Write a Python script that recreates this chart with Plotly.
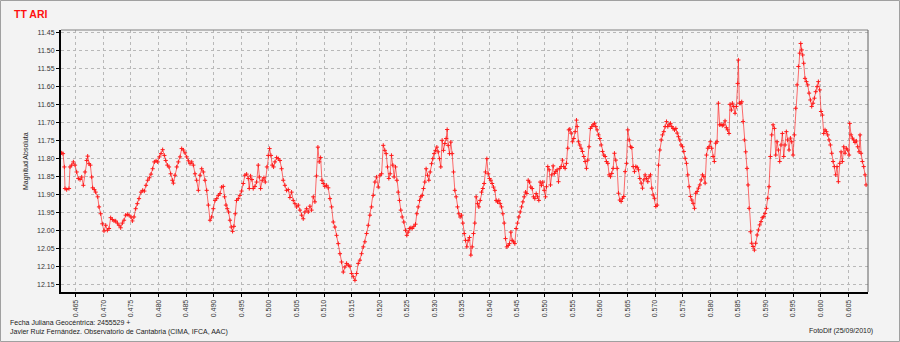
import plotly.graph_objects as go

# ---- data (JD - 2455529, absolute magnitude) ----
jd_a = [0.46246, 0.46270, 0.46295, 0.46307, 0.46337, 0.46379, 0.46397, 0.46428, 0.46458, 0.46488,
        0.46518, 0.46548, 0.46579, 0.46609, 0.46639, 0.46669, 0.46699, 0.46717, 0.46742, 0.46766,
        0.46790, 0.46808, 0.46838, 0.46862, 0.46899, 0.46923, 0.46953, 0.46983, 0.47013, 0.47044,
        0.47074, 0.47104, 0.47134, 0.47164, 0.47195, 0.47225, 0.47255, 0.47285, 0.47315, 0.47346,
        0.47376, 0.47406, 0.47436, 0.47466, 0.47503, 0.47527, 0.47557, 0.47587, 0.47617, 0.47648,
        0.47684, 0.47714, 0.47744, 0.47774, 0.47805, 0.47835, 0.47865, 0.47895, 0.47925, 0.47956,
        0.47986, 0.48016, 0.48046, 0.48076, 0.48107, 0.48131, 0.48161, 0.48191, 0.48221, 0.48252,
        0.48270, 0.48300, 0.48330, 0.48360, 0.48391, 0.48421, 0.48451, 0.48481, 0.48511, 0.48542,
        0.48572, 0.48602, 0.48632, 0.48662, 0.48692, 0.48723, 0.48753, 0.48783, 0.48813, 0.48843,
        0.48874, 0.48904, 0.48934, 0.48964, 0.48994, 0.49025, 0.49055, 0.49085, 0.49115, 0.49145]
mag_a = [11.785, 11.787, 11.824, 11.884, 11.887, 11.884, 11.824, 11.819, 11.810, 11.819,
         11.838, 11.856, 11.859, 11.852, 11.875, 11.838, 11.806, 11.794, 11.815, 11.819,
         11.852, 11.882, 11.887, 11.894, 11.907, 11.935, 11.954, 11.982, 12.002, 11.986,
         12.000, 11.995, 11.965, 11.970, 11.974, 11.974, 11.980, 11.986, 11.993, 11.980,
         11.972, 11.958, 11.956, 11.958, 11.963, 11.974, 11.963, 11.940, 11.926, 11.912,
         11.894, 11.889, 11.891, 11.875, 11.861, 11.854, 11.844, 11.829, 11.810, 11.807,
         11.810, 11.796, 11.787, 11.776, 11.792, 11.806, 11.819, 11.824, 11.843, 11.861,
         11.869, 11.847, 11.824, 11.810, 11.796, 11.773, 11.777, 11.785, 11.796, 11.807,
         11.815, 11.810, 11.819, 11.843, 11.861, 11.889, 11.847, 11.829, 11.838, 11.861,
         11.889, 11.930, 11.972, 11.963, 11.940, 11.917, 11.912, 11.903, 11.898, 11.880]

jd_b = [0.49174, 0.49198, 0.49222, 0.49246, 0.49270, 0.49295, 0.49319, 0.49343, 0.49367, 0.49391,
        0.49415, 0.49446, 0.49476, 0.49506, 0.49536, 0.49566, 0.49597, 0.49627, 0.49645, 0.49669,
        0.49693, 0.49717, 0.49748, 0.49778, 0.49808, 0.49826, 0.49850, 0.49881, 0.49911, 0.49935,
        0.49965, 0.49989, 0.50013, 0.50038, 0.50062, 0.50086, 0.50110, 0.50140, 0.50170, 0.50201,
        0.50231, 0.50261, 0.50291, 0.50321, 0.50352, 0.50382, 0.50412, 0.50442, 0.50472, 0.50503,
        0.50533, 0.50563, 0.50593, 0.50623, 0.50654, 0.50684, 0.50714, 0.50744, 0.50774, 0.50805,
        0.50835, 0.50865, 0.50889, 0.50913, 0.50938, 0.50962, 0.50986, 0.51016, 0.51046, 0.51076,
        0.51107, 0.51137, 0.51167, 0.51197, 0.51227, 0.51258, 0.51288, 0.51318, 0.51348, 0.51378,
        0.51409, 0.51439, 0.51469, 0.51499, 0.51529, 0.51560, 0.51590, 0.51620, 0.51650, 0.51680,
        0.51711, 0.51741, 0.51771, 0.51801, 0.51831, 0.51862, 0.51892, 0.51922, 0.51952, 0.51982,
        0.52013, 0.52043, 0.52073]
mag_b = [11.878, 11.907, 11.930, 11.940, 11.949, 11.972, 11.991, 12.003, 11.989, 11.954,
         11.917, 11.912, 11.903, 11.891, 11.870, 11.847, 11.844, 11.856, 11.884, 11.849,
         11.859, 11.884, 11.878, 11.866, 11.819, 11.852, 11.884, 11.861, 11.854, 11.866,
         11.824, 11.792, 11.773, 11.792, 11.819, 11.824, 11.810, 11.798, 11.801, 11.806,
         11.829, 11.861, 11.875, 11.889, 11.887, 11.909, 11.894, 11.917, 11.926, 11.935,
         11.930, 11.944, 11.958, 11.968, 11.949, 11.940, 11.949, 11.933, 11.944, 11.907,
         11.921, 11.849, 11.769, 11.810, 11.798, 11.861, 11.870, 11.878, 11.875, 11.882,
         11.912, 11.935, 11.977, 11.991, 12.014, 12.037, 12.065, 12.088, 12.116, 12.102,
         12.092, 12.097, 12.100, 12.120, 12.129, 12.139, 12.120, 12.092, 12.083, 12.065,
         12.046, 12.032, 12.009, 11.986, 11.958, 11.935, 11.903, 11.866, 11.852, 11.880,
         11.847, 11.843, 11.764]

jd_c = [0.52101, 0.52126, 0.52150, 0.52174, 0.52198, 0.52222, 0.52246, 0.52270, 0.52295, 0.52319,
        0.52343, 0.52367, 0.52391, 0.52415, 0.52446, 0.52476, 0.52500, 0.52524, 0.52548, 0.52572,
        0.52597, 0.52627, 0.52657, 0.52681, 0.52705, 0.52730, 0.52754, 0.52778, 0.52802, 0.52826,
        0.52850, 0.52874, 0.52899, 0.52923, 0.52947, 0.52971, 0.52995, 0.53019, 0.53044, 0.53068,
        0.53092, 0.53116, 0.53140, 0.53164, 0.53189, 0.53213, 0.53231, 0.53249, 0.53273, 0.53297,
        0.53321, 0.53346, 0.53370, 0.53394, 0.53418, 0.53442, 0.53466, 0.53491, 0.53515, 0.53539,
        0.53563, 0.53587, 0.53611, 0.53636, 0.53660, 0.53684, 0.53708, 0.53732, 0.53756, 0.53781,
        0.53805, 0.53829, 0.53853, 0.53877, 0.53901, 0.53925, 0.53950, 0.53974, 0.53998, 0.54022,
        0.54046, 0.54070, 0.54095, 0.54119, 0.54143, 0.54167, 0.54191, 0.54215, 0.54240, 0.54264,
        0.54288, 0.54312, 0.54336, 0.54360, 0.54385, 0.54409, 0.54433, 0.54457, 0.54481, 0.54505,
        0.54529, 0.54554, 0.54578, 0.54602, 0.54626, 0.54650, 0.54674, 0.54699, 0.54723, 0.54747,
        0.54771, 0.54795, 0.54819, 0.54844, 0.54868, 0.54892, 0.54916, 0.54940, 0.54964, 0.54989,
        0.55013]
mag_c = [11.778, 11.787, 11.824, 11.856, 11.843, 11.792, 11.819, 11.852, 11.824, 11.861,
         11.894, 11.917, 11.944, 11.963, 11.977, 12.000, 12.014, 12.005, 11.995, 11.993,
         11.995, 11.989, 11.983, 11.954, 11.935, 11.917, 11.907, 11.903, 11.884, 11.866,
         11.829, 11.847, 11.861, 11.838, 11.815, 11.801, 11.787, 11.778, 11.769, 11.782,
         11.801, 11.824, 11.750, 11.778, 11.759, 11.745, 11.720, 11.764, 11.787, 11.755,
         11.787, 11.838, 11.889, 11.907, 11.935, 11.954, 11.963, 11.958, 11.980, 12.009,
         12.028, 12.046, 12.028, 12.020, 12.069, 12.046, 12.009, 11.980, 11.907, 11.926,
         11.935, 11.917, 11.894, 11.884, 11.870, 11.838, 11.801, 11.843, 11.856, 11.861,
         11.870, 11.880, 11.889, 11.917, 11.921, 11.917, 11.926, 11.935, 11.954, 11.980,
         12.023, 12.046, 12.042, 12.037, 12.005, 12.028, 12.032, 12.037, 11.995, 11.980,
         11.963, 11.949, 11.935, 11.921, 11.907, 11.894, 11.898, 11.861, 11.866, 11.880,
         11.884, 11.907, 11.912, 11.898, 11.907, 11.917, 11.866, 11.875, 11.866, 11.889,
         11.907]

jd_d = [0.55030, 0.55054, 0.55079, 0.55103, 0.55127, 0.55151, 0.55175, 0.55199, 0.55223, 0.55248,
        0.55272, 0.55296, 0.55320, 0.55344, 0.55368, 0.55393, 0.55417, 0.55435, 0.55453, 0.55477,
        0.55501, 0.55525, 0.55550, 0.55574, 0.55586, 0.55610, 0.55634, 0.55658, 0.55683, 0.55707,
        0.55731, 0.55755, 0.55779, 0.55803, 0.55827, 0.55852, 0.55876, 0.55900, 0.55924, 0.55948,
        0.55972, 0.55997, 0.56021, 0.56045, 0.56069, 0.56093, 0.56117, 0.56142, 0.56166, 0.56190,
        0.56214, 0.56238, 0.56262, 0.56287, 0.56311, 0.56335, 0.56359, 0.56383, 0.56407, 0.56431,
        0.56456, 0.56480, 0.56504, 0.56528, 0.56552, 0.56576, 0.56601, 0.56625, 0.56649, 0.56673,
        0.56697, 0.56721, 0.56746, 0.56770, 0.56794, 0.56818, 0.56842, 0.56866, 0.56891, 0.56915,
        0.56939, 0.56963, 0.56987, 0.57011, 0.57035, 0.57060, 0.57084, 0.57108, 0.57132, 0.57156,
        0.57180, 0.57205, 0.57229, 0.57253, 0.57277, 0.57301, 0.57325, 0.57350, 0.57374, 0.57398,
        0.57422, 0.57446, 0.57470, 0.57495, 0.57519, 0.57543, 0.57567, 0.57591, 0.57615, 0.57639,
        0.57664, 0.57688, 0.57712, 0.57736, 0.57760, 0.57784, 0.57809, 0.57833, 0.57857, 0.57881,
        0.57905, 0.57929, 0.57954]
mag_d = [11.879, 11.823, 11.832, 11.874, 11.846, 11.821, 11.842, 11.837, 11.832, 11.865,
         11.828, 11.823, 11.805, 11.823, 11.828, 11.814, 11.772, 11.721, 11.719, 11.730,
         11.754, 11.745, 11.726, 11.694, 11.712, 11.754, 11.763, 11.772, 11.781, 11.795,
         11.809, 11.828, 11.805, 11.768, 11.717, 11.712, 11.707, 11.703, 11.712, 11.721,
         11.735, 11.745, 11.763, 11.781, 11.791, 11.795, 11.809, 11.814, 11.846, 11.851,
         11.842, 11.828, 11.786, 11.805, 11.828, 11.897, 11.916, 11.920, 11.911, 11.906,
         11.837, 11.814, 11.721, 11.749, 11.768, 11.770, 11.823, 11.837, 11.823, 11.825,
         11.832, 11.856, 11.869, 11.883, 11.860, 11.846, 11.856, 11.865, 11.851, 11.846,
         11.883, 11.902, 11.911, 11.934, 11.930, 11.819, 11.777, 11.749, 11.735, 11.726,
         11.712, 11.698, 11.712, 11.707, 11.703, 11.712, 11.717, 11.721, 11.717, 11.730,
         11.740, 11.749, 11.763, 11.768, 11.781, 11.800, 11.814, 11.846, 11.879, 11.906,
         11.916, 11.925, 11.939, 11.897, 11.892, 11.883, 11.874, 11.860, 11.846, 11.851,
         11.869, 11.791, 11.772]

jd_e = [0.57976, 0.58000, 0.58024, 0.58048, 0.58072, 0.58097, 0.58121, 0.58145, 0.58169, 0.58193,
        0.58217, 0.58242, 0.58266, 0.58290, 0.58314, 0.58338, 0.58356, 0.58381, 0.58399, 0.58423,
        0.58447, 0.58471, 0.58495, 0.58507, 0.58525, 0.58550, 0.58568, 0.58592, 0.58616, 0.58640,
        0.58664, 0.58683, 0.58701, 0.58725, 0.58749, 0.58773, 0.58797, 0.58821, 0.58846, 0.58870,
        0.58894, 0.58918, 0.58942, 0.58966, 0.58991, 0.59015, 0.59039, 0.59063, 0.59087, 0.59111,
        0.59136, 0.59160, 0.59184, 0.59208, 0.59232, 0.59256, 0.59280, 0.59305, 0.59329, 0.59353,
        0.59377, 0.59401, 0.59425, 0.59450, 0.59474, 0.59498, 0.59522, 0.59546, 0.59570, 0.59595,
        0.59619, 0.59637, 0.59655, 0.59673, 0.59691, 0.59715, 0.59740, 0.59764, 0.59788, 0.59812,
        0.59836, 0.59860, 0.59885, 0.59909, 0.59933, 0.59957, 0.59981, 0.60005, 0.60029, 0.60054,
        0.60078, 0.60102, 0.60126, 0.60150, 0.60174, 0.60199, 0.60223, 0.60247, 0.60271, 0.60295,
        0.60319, 0.60344, 0.60368, 0.60392, 0.60416, 0.60440, 0.60464, 0.60489, 0.60513, 0.60525,
        0.60549, 0.60573, 0.60597, 0.60621, 0.60645, 0.60670, 0.60694, 0.60712, 0.60730, 0.60754,
        0.60778, 0.60803, 0.60821]
mag_e = [11.768, 11.754, 11.772, 11.795, 11.809, 11.758, 11.754, 11.647, 11.707, 11.706,
         11.709, 11.707, 11.696, 11.715, 11.721, 11.731, 11.650, 11.666, 11.647, 11.656,
         11.675, 11.656, 11.592, 11.527, 11.647, 11.647, 11.643, 11.698, 11.749, 11.782,
         11.828, 11.874, 11.939, 12.004, 12.036, 12.045, 12.055, 12.036, 12.013, 11.999,
         11.985, 11.976, 11.965, 11.962, 11.953, 11.939, 11.911, 11.879, 11.795, 11.735,
         11.707, 11.717, 11.791, 11.754, 11.777, 11.809, 11.763, 11.731, 11.795, 11.763,
         11.726, 11.749, 11.777, 11.744, 11.754, 11.791, 11.735, 11.661, 11.596, 11.545,
         11.508, 11.481, 11.499, 11.513, 11.536, 11.578, 11.587, 11.596, 11.619, 11.638,
         11.656, 11.647, 11.633, 11.615, 11.601, 11.587, 11.610, 11.670, 11.680, 11.731,
         11.721, 11.726, 11.735, 11.749, 11.763, 11.786, 11.809, 11.823, 11.846, 11.823,
         11.865, 11.814, 11.782, 11.809, 11.768, 11.786, 11.772, 11.777, 11.791, 11.703,
         11.735, 11.744, 11.749, 11.756, 11.752, 11.768, 11.782, 11.735, 11.786, 11.809,
         11.823, 11.846, 11.874]

title_text = "TT ARI"
y_label = "Magnitud Absoluta"
footer_1 = "Fecha Juliana Geocéntrica: 2455529 +"
footer_2 = "Javier Ruiz Fernández. Observatorio de Cantabria (CIMA, IFCA, AAC)"
footer_r = "FotoDif (25/09/2010)"

jd = jd_a + jd_b + jd_c + jd_d + jd_e
mag = mag_a + mag_b + mag_c + mag_d + mag_e

FONT = "Liberation Sans, Arial, sans-serif"
BG = "#f3f3f3"
GRID = "#b8b8b8"

fig = go.Figure()
fig.add_trace(go.Scatter(
    x=jd, y=mag, mode="lines+markers",
    line=dict(color="rgba(255,30,30,0.65)", width=1),
    marker=dict(symbol="cross-thin", size=3, color="#ff1a1a",
                line=dict(color="#ff1a1a", width=1)),
    hoverinfo="skip", showlegend=False,
))

W, H = 900, 342
ml, mr, mt, mb = 61, 32, 30, 50
pw, ph = W - ml - mr, H - mt - mb


def px(xp):
    return (xp - ml) / pw


def py(yp):
    return (H - mb - yp) / ph


fig.update_layout(
    width=W, height=H,
    margin=dict(l=ml, r=mr, t=mt, b=mb, pad=0),
    paper_bgcolor=BG, plot_bgcolor=BG,
    font=dict(family=FONT, size=7, color="#222222"),
    showlegend=False,
)
fig.update_xaxes(
    range=[0.46234, 0.60856], tick0=0.465, dtick=0.005, tickformat=".3f",
    tickangle=-90, showgrid=True, gridcolor=GRID, griddash="dot", gridwidth=1,
    showline=True, linecolor="black", linewidth=2, ticks="outside", ticklen=3,
    tickcolor="black", tickfont=dict(size=7, color="#333333"), zeroline=False,
)
fig.update_yaxes(
    range=[12.1714, 11.4436], tick0=11.45, dtick=0.05, tickformat=".2f",
    showgrid=True, gridcolor=GRID, griddash="dot", gridwidth=1,
    showline=True, linecolor="black", linewidth=2, ticks="outside", ticklen=3,
    tickcolor="black", tickfont=dict(size=7, color="#333333"), zeroline=False,
)

# thin frame on top/right of plot area
fig.add_shape(type="line", xref="paper", yref="paper", x0=0, x1=1, y0=1, y1=1,
              line=dict(color="#808080", width=1))
fig.add_shape(type="line", xref="paper", yref="paper", x0=1, x1=1, y0=0, y1=1,
              line=dict(color="#606060", width=1))
# outer border of the image
fig.add_shape(type="rect", xref="paper", yref="paper",
              x0=px(0.5), x1=px(W - 0.5), y0=py(H - 0.5), y1=py(0.5),
              line=dict(color="#a0a0a0", width=1))

fig.add_annotation(text=f"<b>{title_text}</b>", xref="paper", yref="paper",
                   x=px(12), y=py(13.5), xanchor="left", yanchor="middle",
                   showarrow=False, font=dict(size=10.5, color="#ff1010", family=FONT))
fig.add_annotation(text=y_label, xref="paper", yref="paper", x=px(26), y=0.5,
                   textangle=-90, xanchor="center", yanchor="middle", showarrow=False,
                   font=dict(size=7, color="#222222", family=FONT))
fig.add_annotation(text=footer_1, xref="paper", yref="paper", x=px(8), y=py(322),
                   xanchor="left", yanchor="middle", showarrow=False,
                   font=dict(size=7, color="#222222", family=FONT))
fig.add_annotation(text=footer_2, xref="paper", yref="paper", x=px(8), y=py(332),
                   xanchor="left", yanchor="middle", showarrow=False,
                   font=dict(size=7, color="#222222", family=FONT))
fig.add_annotation(text=footer_r, xref="paper", yref="paper", x=px(875), y=py(331),
                   xanchor="right", yanchor="middle", showarrow=False,
                   font=dict(size=7, color="#222222", family=FONT))

fig.write_html(
    "out.html",
    config={"displayModeBar": False},
    post_script="document.body.style.margin='0';document.body.style.overflow='hidden';",
)
